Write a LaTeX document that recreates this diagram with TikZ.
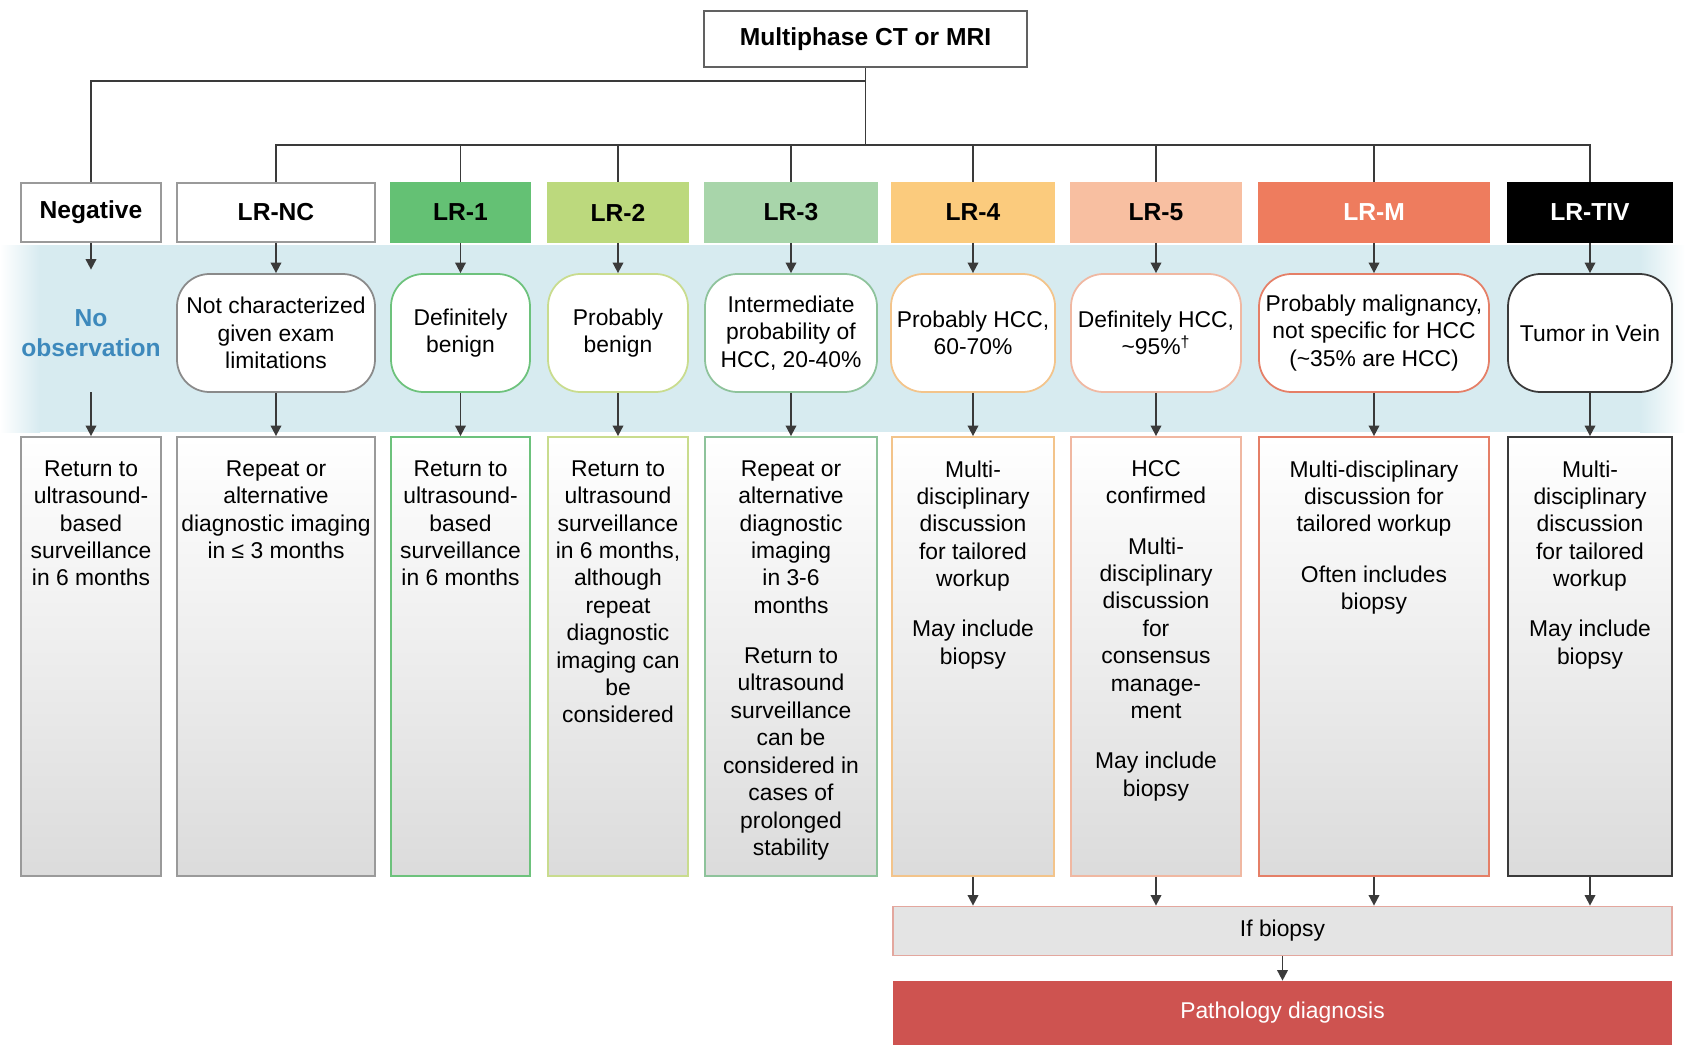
\documentclass[tikz,border=0pt]{standalone}
\usepackage{fontspec}
\setmainfont{Liberation Sans}
\usepackage{xcolor}
\usetikzlibrary{arrows.meta}

\definecolor{linegray}{HTML}{3A3A3A}
\definecolor{boxgray}{HTML}{9A9A9A}
\definecolor{band}{HTML}{D7EBF0}
\definecolor{noobs}{HTML}{3D89BC}
\definecolor{lrone}{HTML}{64C174}
\definecolor{lrtwo}{HTML}{BCD97D}
\definecolor{lrthree}{HTML}{A8D5AA}
\definecolor{lrfour}{HTML}{FBCB7D}
\definecolor{lrfive}{HTML}{F8BFA1}
\definecolor{lrm}{HTML}{EE7C5E}
\definecolor{ncline}{HTML}{8A8A8A}
\definecolor{oneline}{HTML}{6DC27C}
\definecolor{twoline}{HTML}{C9DC8E}
\definecolor{threeline}{HTML}{8EC39B}
\definecolor{fourline}{HTML}{F3C48B}
\definecolor{fiveline}{HTML}{F0B8A2}
\definecolor{mline}{HTML}{E57F67}
\definecolor{tivline}{HTML}{3A3A3A}
\definecolor{biopsyfill}{HTML}{E4E4E4}
\definecolor{biopsyline}{HTML}{E3A79E}
\definecolor{patho}{HTML}{CE5350}

\newdimen\pu \pu=0.2mm

\begin{document}
\begin{tikzpicture}[x=0.2mm,y=0.2mm,
  every node/.style={font=\fontsize{13}{15.6}\selectfont},
  conn/.style={draw=linegray,line width=1pt},
  arr/.style={conn,-{Triangle[width=6pt,length=6pt]}},
  head/.style={draw=boxgray,line width=1pt,minimum height=59\pu,font=\fontsize{14}{16.8}\selectfont\bfseries},
  verdict/.style={draw,fill=white,line width=1pt,rounded corners=6.5mm,minimum height=118\pu,align=center},
  plan/.style={draw,line width=1pt,top color=white,bottom color=black!14,minimum height=439\pu},
  plantext/.style={align=center,anchor=north,inner sep=0pt}]
\useasboundingbox (0,0) rectangle (1685,-1045);

% blue band behind the category row
\fill[left color=white,right color=band] (0,-245) rectangle (40,-432);
\fill[band] (40,-245) rectangle (1640,-432);
\fill[left color=band,right color=white] (1640,-245) rectangle (1685,-432);

% top
\node[draw=linegray!80,fill=white,line width=1pt,minimum width=323\pu,minimum height=56\pu,
  font=\fontsize{14}{16.8}\selectfont\bfseries] (ct) at (865.5,-39) {Multiphase CT or MRI};
\coordinate (busA) at (865.5,-81);
\coordinate (busB) at (865.5,-145);

% labels
\node[head,fill=white,minimum width=140\pu] (neg) at (91,-212.5) {Negative};
\node[head,fill=white,minimum width=198\pu] (nc) at (276,-212.5) {LR-NC};
\node[head,fill=lrone,draw=lrone,minimum width=139\pu] (lr1) at (460.5,-212.5) {LR-1};
\node[head,fill=lrtwo,draw=lrtwo,minimum width=140\pu] (lr2) at (618,-212.5) {LR-2};
\node[head,fill=lrthree,draw=lrthree,minimum width=172\pu] (lr3) at (791,-212.5) {LR-3};
\node[head,fill=lrfour,draw=lrfour,minimum width=162\pu] (lr4) at (973,-212.5) {LR-4};
\node[head,fill=lrfive,draw=lrfive,minimum width=170\pu] (lr5) at (1156,-212.5) {LR-5};
\node[head,fill=lrm,draw=lrm,text=white,minimum width=230\pu] (lrM) at (1374,-212.5) {LR-M};
\node[head,fill=black,draw=black,text=white,minimum width=164\pu] (tiv) at (1590,-212.5) {LR-TIV};

% meaning
\node[minimum width=140\pu,minimum height=118\pu,align=center,text=noobs,
  font=\fontsize{14}{16.8}\selectfont\bfseries] (negDef) at (91,-333) {No\\observation};
\node[verdict,draw=ncline,minimum width=198\pu] (ncDef) at (276,-333) {Not characterized\\given exam\\limitations};
\node[verdict,draw=oneline,minimum width=139\pu] (lr1Def) at (460.5,-333) {Definitely\\benign};
\node[verdict,draw=twoline,minimum width=140\pu] (lr2Def) at (618,-333) {Probably\\benign};
\node[verdict,draw=threeline,minimum width=172\pu] (lr3Def) at (791,-333) {Intermediate\\probability of\\HCC, 20-40\%};
\node[verdict,draw=fourline,minimum width=162\pu] (lr4Def) at (973,-333) {Probably HCC,\\60-70\%};
\node[verdict,draw=fiveline,minimum width=170\pu] (lr5Def) at (1156,-333) {Definitely HCC,\\\textasciitilde 95\%\textsuperscript{\textdagger}};
\node[verdict,draw=mline,minimum width=230\pu] (lrMDef) at (1374,-333) {Probably malignancy,\\not specific for HCC\\(\textasciitilde 35\% are HCC)};
\node[verdict,draw=tivline,minimum width=164\pu] (tivDef) at (1590,-333) {Tumor in Vein};

% management
\node[plan,draw=boxgray,minimum width=140\pu] (negPlan) at (91,-656.5) {};
\node[plantext] at ([yshift=-24\pu]negPlan.north) {Return to\\ultrasound-\\based\\surveillance\\in 6 months};
\node[plan,draw=boxgray,minimum width=198\pu] (ncPlan) at (276,-656.5) {};
\node[plantext] at ([yshift=-24\pu]ncPlan.north) {Repeat or\\alternative\\diagnostic imaging\\in ≤ 3 months};
\node[plan,draw=oneline,minimum width=139\pu] (lr1Plan) at (460.5,-656.5) {};
\node[plantext] at ([yshift=-24\pu]lr1Plan.north) {Return to\\ultrasound-\\based\\surveillance\\in 6 months};
\node[plan,draw=twoline,minimum width=140\pu] (lr2Plan) at (618,-656.5) {};
\node[plantext] at ([yshift=-24\pu]lr2Plan.north) {Return to\\ultrasound\\surveillance\\in 6 months,\\although\\repeat\\diagnostic\\imaging can\\be\\considered};
\node[plan,draw=threeline,minimum width=172\pu] (lr3Plan) at (791,-656.5) {};
\node[plantext] at ([yshift=-24\pu]lr3Plan.north) {Repeat or\\alternative\\diagnostic\\imaging\\in 3-6\\months\\[13pt]Return to\\ultrasound\\surveillance\\can be\\considered in\\cases of\\prolonged\\stability};
\node[plan,draw=fourline,minimum width=162\pu] (lr4Plan) at (973,-656.5) {};
\node[plantext] at ([yshift=-24\pu]lr4Plan.north) {Multi-\\disciplinary\\discussion\\for tailored\\workup\\[13pt]May include\\biopsy};
\node[plan,draw=fiveline,minimum width=170\pu] (lr5Plan) at (1156,-656.5) {};
\node[plantext] at ([yshift=-24\pu]lr5Plan.north) {HCC\\confirmed\\[13pt]Multi-\\disciplinary\\discussion\\for\\consensus\\manage-\\ment\\[13pt]May include\\biopsy};
\node[plan,draw=mline,minimum width=230\pu] (lrMPlan) at (1374,-656.5) {};
\node[plantext] at ([yshift=-24\pu]lrMPlan.north) {Multi-disciplinary\\discussion for\\tailored workup\\[13pt]Often includes\\biopsy};
\node[plan,draw=tivline,minimum width=164\pu] (tivPlan) at (1590,-656.5) {};
\node[plantext] at ([yshift=-24\pu]tivPlan.north) {Multi-\\disciplinary\\discussion\\for tailored\\workup\\[13pt]May include\\biopsy};

% biopsy
\node[draw=biopsyline,fill=biopsyfill,line width=1pt,minimum width=779\pu,minimum height=49\pu] (biopsy) at (1282.5,-931) {If biopsy};
\node[fill=patho,text=white,minimum width=779\pu,minimum height=64\pu] (patho) at (1282.5,-1013) {Pathology diagnosis};

% tree lines
\draw[conn] (ct.south) -- (busB);
\draw[conn] (busA) -| (neg.north);
\draw[conn] (busB) -| (nc.north);
\draw[conn] (busB) -| (lr1.north);
\draw[conn] (busB) -| (lr2.north);
\draw[conn] (busB) -| (lr3.north);
\draw[conn] (busB) -| (lr4.north);
\draw[conn] (busB) -| (lr5.north);
\draw[conn] (busB) -| (lrM.north);
\draw[conn] (busB) -| (tiv.north);

% arrows down the columns
\draw[arr] (neg.south) -- ([yshift=4\pu]negDef.north);
\draw[arr] (nc.south) -- (ncDef.north);
\draw[arr] (lr1.south) -- (lr1Def.north);
\draw[arr] (lr2.south) -- (lr2Def.north);
\draw[arr] (lr3.south) -- (lr3Def.north);
\draw[arr] (lr4.south) -- (lr4Def.north);
\draw[arr] (lr5.south) -- (lr5Def.north);
\draw[arr] (lrM.south) -- (lrMDef.north);
\draw[arr] (tiv.south) -- (tivDef.north);
\draw[arr] (negDef.south) -- (negPlan.north);
\draw[arr] (ncDef.south) -- (ncPlan.north);
\draw[arr] (lr1Def.south) -- (lr1Plan.north);
\draw[arr] (lr2Def.south) -- (lr2Plan.north);
\draw[arr] (lr3Def.south) -- (lr3Plan.north);
\draw[arr] (lr4Def.south) -- (lr4Plan.north);
\draw[arr] (lr5Def.south) -- (lr5Plan.north);
\draw[arr] (lrMDef.south) -- (lrMPlan.north);
\draw[arr] (tivDef.south) -- (tivPlan.north);

\draw[arr] (lr4Plan.south) -- (lr4Plan.south |- biopsy.north);
\draw[arr] (lr5Plan.south) -- (lr5Plan.south |- biopsy.north);
\draw[arr] (lrMPlan.south) -- (lrMPlan.south |- biopsy.north);
\draw[arr] (tivPlan.south) -- (tivPlan.south |- biopsy.north);
\draw[arr] (biopsy.south) -- (patho.north);
\end{tikzpicture}
\end{document}
